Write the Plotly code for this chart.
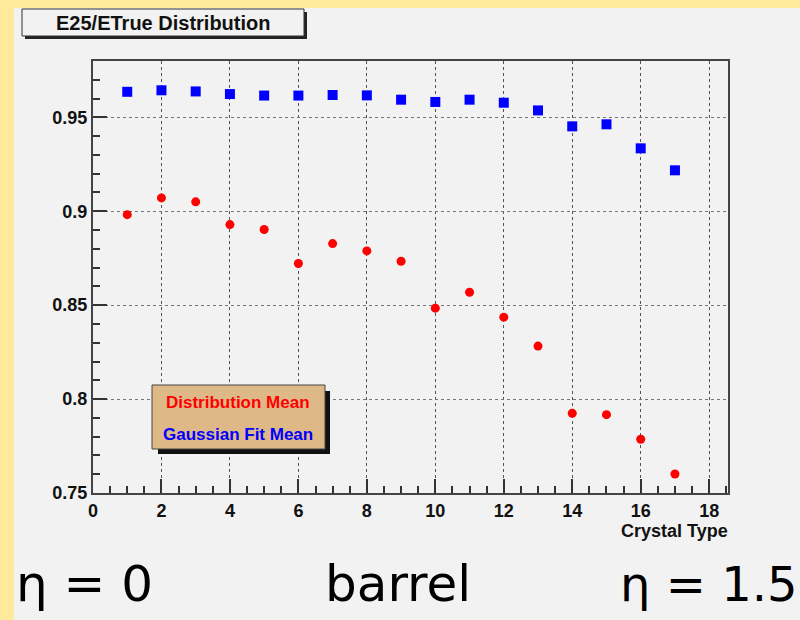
import plotly.graph_objects as go

crystal_type = [1, 2, 3, 4, 5, 6, 7, 8, 9, 10, 11, 12, 13, 14, 15, 16, 17]
dist_mean = [0.8982, 0.9071, 0.9050, 0.8929, 0.8903, 0.8722, 0.8828, 0.8789,
             0.8734, 0.8484, 0.8569, 0.8436, 0.8282, 0.7924, 0.7917, 0.7786, 0.7601]
gauss_mean = [0.9636, 0.9644, 0.9638, 0.9624, 0.9616, 0.9616, 0.9619, 0.9617,
              0.9594, 0.9582, 0.9594, 0.9578, 0.9537, 0.9452, 0.9463, 0.9335, 0.9218]

W, H = 800, 620
L, R, T, B = 93, 728, 61, 493
pw, ph = R - L, B - T

def px(x):
    return (x - L) / pw

def py(y):
    return (B - y) / ph

fig = go.Figure()
fig.add_trace(go.Scatter(x=crystal_type, y=gauss_mean, mode="markers",
                         marker=dict(symbol="square", size=10, color="#0000ff"),
                         name="Gaussian Fit Mean", showlegend=False))
fig.add_trace(go.Scatter(x=crystal_type, y=dist_mean, mode="markers",
                         marker=dict(symbol="circle", size=9, color="#ff0000"),
                         name="Distribution Mean", showlegend=False))

shapes = []
shapes.append(dict(type="rect", xref="paper", yref="paper", layer="below",
                   x0=px(14), x1=px(800), y0=py(620), y1=py(8),
                   fillcolor="#f2f2f2", line=dict(width=0)))
shapes.append(dict(type="rect", xref="paper", yref="paper",
                   x0=px(25), x1=px(307), y0=py(39), y1=py(12),
                   fillcolor="#222222", line=dict(width=0)))
shapes.append(dict(type="rect", xref="paper", yref="paper",
                   x0=px(22), x1=px(304), y0=py(36), y1=py(9),
                   fillcolor="#f2f2f2", line=dict(width=1, color="#333333")))
shapes.append(dict(type="rect", xref="paper", yref="paper",
                   x0=px(158), x1=px(330), y0=py(454), y1=py(391),
                   fillcolor="#111111", line=dict(width=0)))
shapes.append(dict(type="rect", xref="paper", yref="paper",
                   x0=px(152), x1=px(325), y0=py(449), y1=py(385),
                   fillcolor="#deb887", line=dict(width=1, color="#444444")))

annotations = [
    dict(text="<b>E25/ETrue Distribution</b>", xref="paper", yref="paper",
         x=px(163), y=py(23), xanchor="center", yanchor="middle", showarrow=False,
         font=dict(family="Liberation Sans", size=20, color="#111111")),
    dict(text="<b>Distribution Mean</b>", xref="paper", yref="paper",
         x=px(238), y=py(402), xanchor="center", yanchor="middle", showarrow=False,
         font=dict(family="Liberation Sans", size=17, color="#ff0000")),
    dict(text="<b>Gaussian Fit Mean</b>", xref="paper", yref="paper",
         x=px(238), y=py(434), xanchor="center", yanchor="middle", showarrow=False,
         font=dict(family="Liberation Sans", size=17, color="#0000ff")),
    dict(text="<b>Crystal Type</b>", xref="paper", yref="paper",
         x=px(730), y=py(531), xanchor="right", yanchor="middle", showarrow=False,
         font=dict(family="Liberation Sans", size=18, color="#111111")),
    dict(text="η = 0", xref="paper", yref="paper",
         x=px(14), y=py(584), xanchor="left", yanchor="middle", showarrow=False,
         font=dict(family="DejaVu Sans", size=50, color="#000000")),
    dict(text="barrel", xref="paper", yref="paper",
         x=px(398), y=py(584), xanchor="center", yanchor="middle", showarrow=False,
         font=dict(family="DejaVu Sans", size=50, color="#000000")),
    dict(text="η = 1.5", xref="paper", yref="paper",
         x=px(800), y=py(584), xanchor="right", yanchor="middle", showarrow=False,
         font=dict(family="DejaVu Sans", size=48, color="#000000")),
]

axis_font = dict(family="Liberation Sans", size=18, color="#111111")
fig.update_layout(
    width=W, height=H,
    margin=dict(l=L, r=W - R, t=T, b=H - B),
    paper_bgcolor="#ffe99a",
    plot_bgcolor="#f2f2f2",
    shapes=shapes,
    annotations=annotations,
    showlegend=False,
)
fig.update_xaxes(range=[0, 18.55], dtick=2, tick0=0, ticks="inside", ticklen=14,
                 tickwidth=2, tickcolor="#333333",
                 minor=dict(ticks="inside", dtick=0.5, ticklen=7, tickcolor="#333333",
                            showgrid=False),
                 showgrid=True, gridcolor="#555555", griddash="dot", gridwidth=1,
                 showline=True, mirror=True, linecolor="#444444", linewidth=2,
                 zeroline=False, tickfont=axis_font, tickprefix="<b>", ticksuffix="</b>")
fig.update_yaxes(range=[0.75, 0.98], dtick=0.05, tick0=0.75, ticks="inside", ticklen=14,
                 tickwidth=2, tickcolor="#333333",
                 minor=dict(ticks="inside", dtick=0.01, ticklen=7, tickcolor="#333333",
                            showgrid=False),
                 showgrid=True, gridcolor="#777777", griddash="dot", gridwidth=1,
                 showline=True, mirror=True, linecolor="#444444", linewidth=2,
                 zeroline=False, tickfont=axis_font, tickprefix="<b>", ticksuffix="</b>",
                 tickformat="~g")

fig.write_html("out.html")
